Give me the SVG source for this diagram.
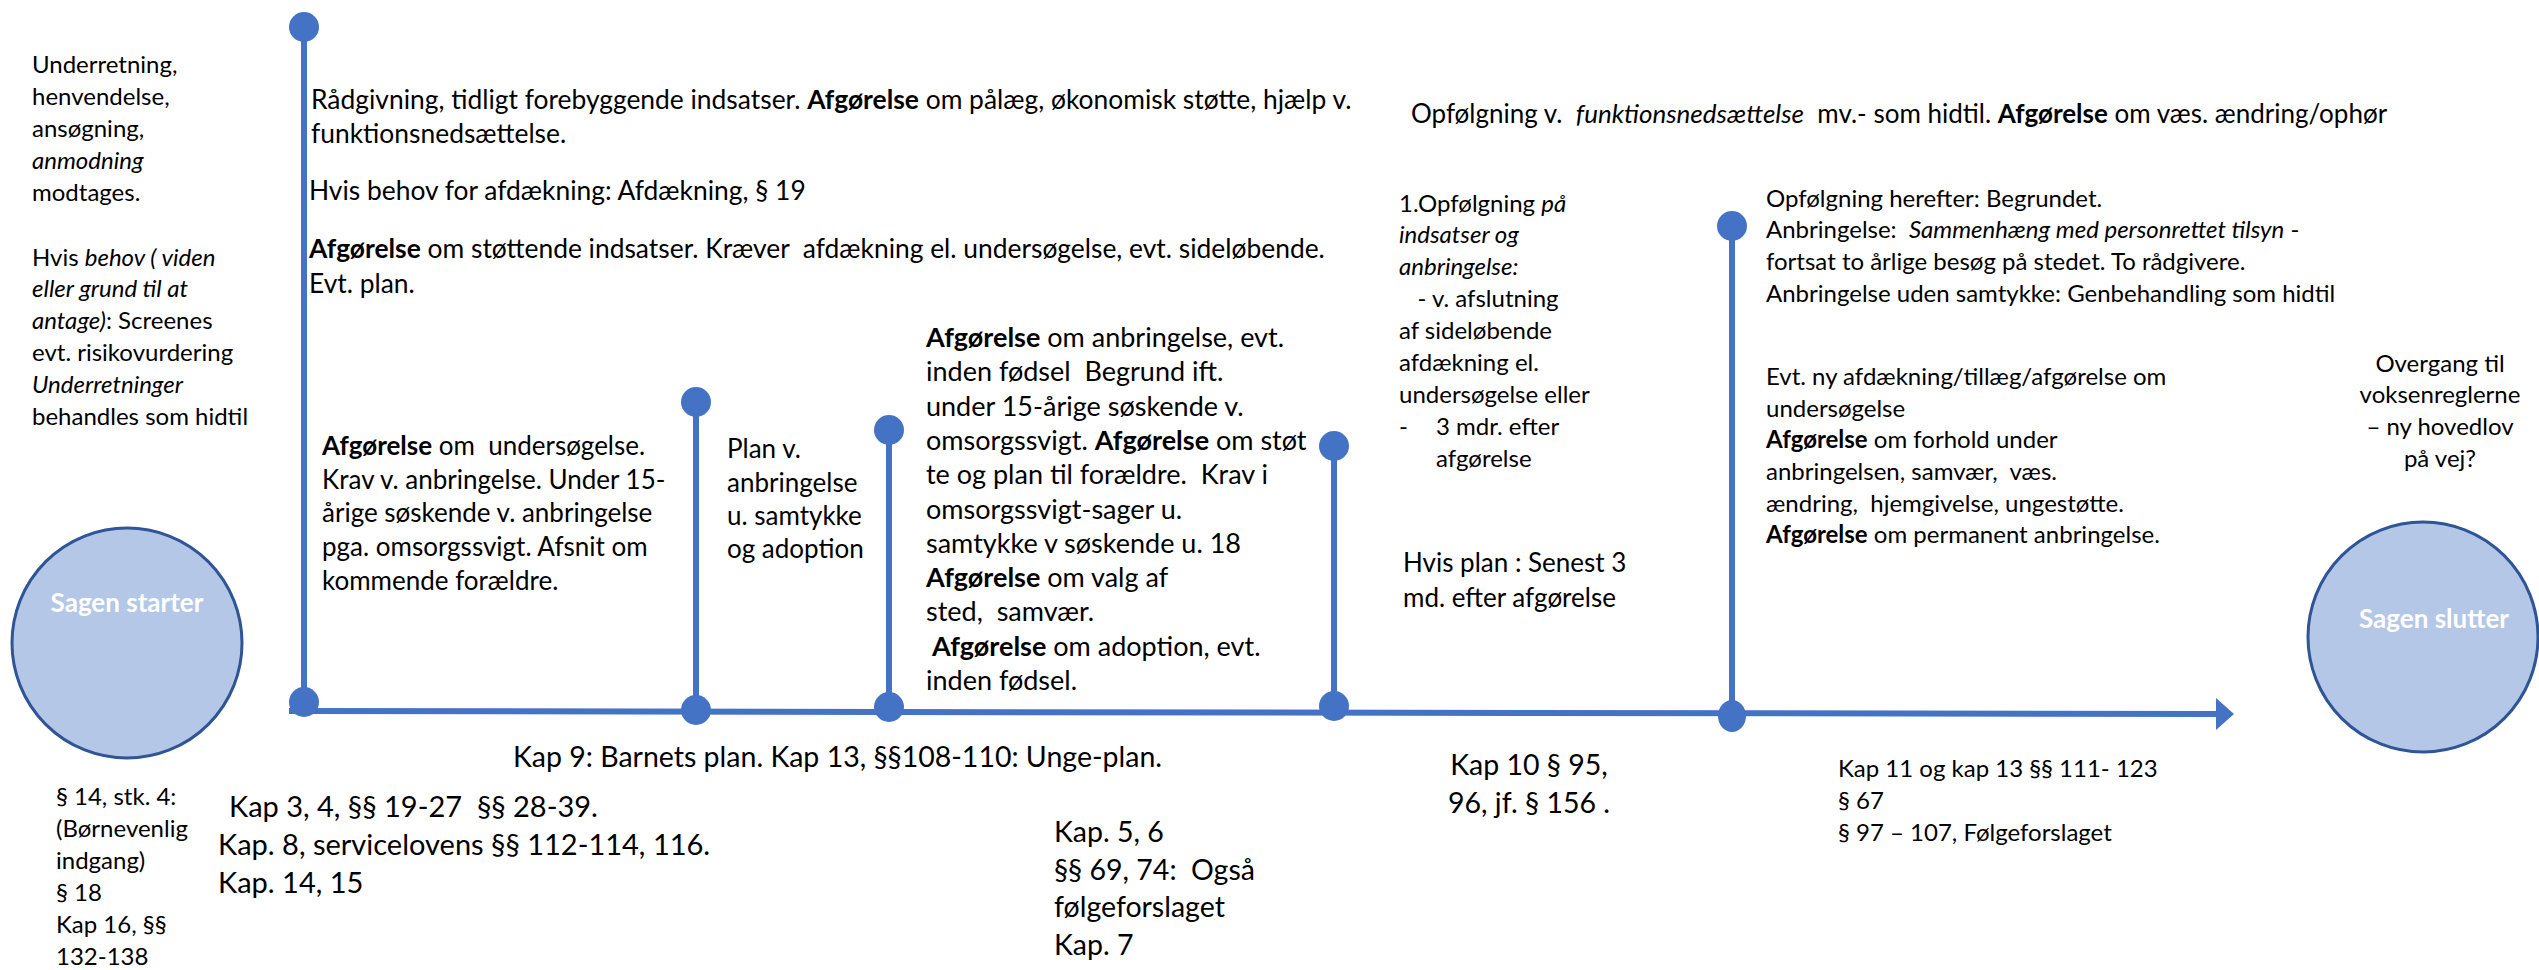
<svg xmlns="http://www.w3.org/2000/svg" width="2539" height="970" viewBox="0 0 2539 970">
<style>
text{font-family:Lato,"Open Sans","Liberation Sans",sans-serif;fill:#000;white-space:pre}
.s24{font-size:24px}.s26{font-size:26px}.s27{font-size:27px}.s28{font-size:28.5px}.s29{font-size:29px}
.sB{font-size:26.4px}.sC{font-size:26px}
.b{font-weight:bold}.i{font-style:italic}
.mk{stroke:#4472C4;stroke-width:6;fill:none}
.dot{fill:#4472C4}
.circ{fill:#B4C7E7;stroke:#2F5597;stroke-width:3}
.ct{fill:#fff;font-weight:bold;font-size:26px}
.mid{text-anchor:middle}
</style>
<defs>
<marker id="ah" markerWidth="18" markerHeight="32" refX="0" refY="16" orient="auto" markerUnits="userSpaceOnUse">
<path d="M0,0 L18,16 L0,32 Z" fill="#4472C4"/>
</marker>
</defs>

<g id="connectors">
<line x1="289" y1="711" x2="2216" y2="714" stroke="#4472C4" stroke-width="6" marker-end="url(#ah)"/>
</g>

<g id="start">
<circle class="circ" cx="127" cy="643" r="115"/>
<text class="ct mid" x="127" y="612">Sagen starter</text>
</g>
<g id="end">
<circle class="circ" cx="2423" cy="637" r="115"/>
<text class="ct mid" x="2434" y="628">Sagen slutter</text>
</g>

<g id="marker1">
<line class="mk" x1="304" y1="27" x2="304" y2="702"/>
<circle class="dot" cx="304" cy="27" r="15"/>
<circle class="dot" cx="304" cy="702" r="15"/>
</g>
<g id="marker2">
<line class="mk" x1="696" y1="402" x2="696" y2="710"/>
<circle class="dot" cx="696" cy="402" r="15"/>
<circle class="dot" cx="696" cy="710" r="15"/>
</g>
<g id="marker3">
<line class="mk" x1="889" y1="430" x2="889" y2="707"/>
<circle class="dot" cx="889" cy="430" r="15"/>
<circle class="dot" cx="889" cy="707" r="15"/>
</g>
<g id="marker4">
<line class="mk" x1="1334" y1="446" x2="1334" y2="706"/>
<circle class="dot" cx="1334" cy="446" r="15"/>
<circle class="dot" cx="1334" cy="706" r="15"/>
</g>
<g id="marker5">
<line class="mk" x1="1732" y1="226" x2="1732" y2="716"/>
<circle class="dot" cx="1732" cy="226" r="15"/>
<ellipse class="dot" cx="1732" cy="716" rx="14" ry="16"/>
</g>

<g id="intake" class="s24">
<text x="32" y="73">Underretning,</text>
<text x="32" y="105">henvendelse,</text>
<text x="32" y="137">ansøgning,</text>
<text x="32" y="169" class="i">anmodning</text>
<text x="32" y="201">modtages.</text>
<text x="32" y="266">Hvis <tspan class="i">behov ( viden</tspan></text>
<text x="32" y="297" class="i">eller grund til at</text>
<text x="32" y="329"><tspan class="i">antage)</tspan>: Screenes</text>
<text x="32" y="361">evt. risikovurdering</text>
<text x="32" y="393" class="i">Underretninger</text>
<text x="32" y="425">behandles som hidtil</text>
</g>

<g id="early" class="sB">
<text x="311" y="109">Rådgivning, tidligt forebyggende indsatser. <tspan class="b">Afgørelse</tspan> om pålæg, økonomisk støtte, hjælp v.</text>
<text x="311" y="143">funktionsnedsættelse.</text>
<text x="309" y="200">Hvis behov for afdækning: Afdækning, § 19</text>
<text x="309" y="258"><tspan class="b">Afgørelse</tspan> om støttende indsatser. Kræver  afdækning el. undersøgelse, evt. sideløbende.</text>
<text x="309" y="293">Evt. plan.</text>
</g>

<g id="followup-top" class="sC">
<text x="1411" y="123">Opfølgning v.  <tspan class="i">funktionsnedsættelse</tspan>  mv.- som hidtil. <tspan class="b">Afgørelse</tspan> om væs. ændring/ophør</text>
</g>

<g id="investigation" class="s26">
<text x="322" y="455"><tspan class="b">Afgørelse</tspan> om  undersøgelse.</text>
<text x="322" y="489">Krav v. anbringelse. Under 15-</text>
<text x="322" y="522">årige søskende v. anbringelse</text>
<text x="322" y="556">pga. omsorgssvigt. Afsnit om</text>
<text x="322" y="590">kommende forældre.</text>
</g>

<g id="plan" class="s26">
<text x="727" y="458">Plan v.</text>
<text x="727" y="492">anbringelse</text>
<text x="727" y="525">u. samtykke</text>
<text x="727" y="558">og adoption</text>
</g>

<g id="placement" class="s27">
<text x="926" y="347"><tspan class="b">Afgørelse</tspan> om anbringelse, evt.</text>
<text x="926" y="381">inden fødsel  Begrund ift.</text>
<text x="926" y="416">under 15-årige søskende v.</text>
<text x="926" y="450">omsorgssvigt. <tspan class="b">Afgørelse</tspan> om støt</text>
<text x="926" y="484">te og plan til forældre.  Krav i</text>
<text x="926" y="519">omsorgssvigt-sager u.</text>
<text x="926" y="553">samtykke v søskende u. 18</text>
<text x="926" y="587"><tspan class="b">Afgørelse</tspan> om valg af</text>
<text x="926" y="621">sted,  samvær.</text>
<text x="932" y="656"><tspan class="b">Afgørelse</tspan> om adoption, evt.</text>
<text x="926" y="690">inden fødsel.</text>
</g>

<g id="first-followup" class="s24">
<text x="1399" y="212">1.Opfølgning <tspan class="i">på</tspan></text>
<text x="1399" y="243" class="i">indsatser og</text>
<text x="1399" y="275" class="i">anbringelse:</text>
<text x="1399" y="307">   - v. afslutning</text>
<text x="1399" y="339">af sideløbende</text>
<text x="1399" y="371">afdækning el.</text>
<text x="1399" y="403">undersøgelse eller</text>
<text x="1399" y="435">-</text>
<text x="1436" y="435">3 mdr. efter</text>
<text x="1436" y="467">afgørelse</text>
</g>

<g id="plan-deadline" class="s26">
<text x="1403" y="572">Hvis plan : Senest 3</text>
<text x="1403" y="607">md. efter afgørelse</text>
</g>

<g id="later-followup" class="s24">
<text x="1766" y="207">Opfølgning herefter: Begrundet.</text>
<text x="1766" y="238">Anbringelse:  <tspan class="i">Sammenhæng med personrettet tilsyn</tspan> -</text>
<text x="1766" y="270">fortsat to årlige besøg på stedet. To rådgivere.</text>
<text x="1766" y="302">Anbringelse uden samtykke: Genbehandling som hidtil</text>
<text x="1766" y="385">Evt. ny afdækning/tillæg/afgørelse om</text>
<text x="1766" y="417">undersøgelse</text>
<text x="1766" y="448"><tspan class="b">Afgørelse</tspan> om forhold under</text>
<text x="1766" y="480">anbringelsen, samvær,  væs.</text>
<text x="1766" y="512">ændring,  hjemgivelse, ungestøtte.</text>
<text x="1766" y="543"><tspan class="b">Afgørelse</tspan> om permanent anbringelse.</text>
</g>

<g id="transition" class="s24 mid">
<text x="2440" y="372">Overgang til</text>
<text x="2440" y="403">voksenreglerne</text>
<text x="2440" y="435">– ny hovedlov</text>
<text x="2440" y="467">på vej?</text>
</g>

<g id="refs-start" class="s24">
<text x="56" y="805">§ 14, stk. 4:</text>
<text x="56" y="837">(Børnevenlig</text>
<text x="56" y="869">indgang)</text>
<text x="56" y="901">§ 18</text>
<text x="56" y="933">Kap 16, §§</text>
<text x="56" y="965">132-138</text>
</g>

<g id="refs-plan" class="s28">
<text x="513" y="767">Kap 9: Barnets plan. Kap 13, §§108-110: Unge-plan.</text>
</g>

<g id="refs-early" class="s29">
<text x="229" y="817">Kap 3, 4, §§ 19-27  §§ 28-39.</text>
<text x="218" y="855">Kap. 8, servicelovens §§ 112-114, 116.</text>
<text x="218" y="893">Kap. 14, 15</text>
</g>

<g id="refs-placement" class="s28">
<text x="1054" y="842">Kap. 5, 6</text>
<text x="1054" y="880">§§ 69, 74:  Også</text>
<text x="1054" y="917">følgeforslaget</text>
<text x="1054" y="955">Kap. 7</text>
</g>

<g id="refs-followup" class="s28 mid">
<text x="1529" y="775">Kap 10 § 95,</text>
<text x="1529" y="813">96, jf. § 156 .</text>
</g>

<g id="refs-later" class="s24">
<text x="1838" y="777">Kap 11 og kap 13 §§ 111- 123</text>
<text x="1838" y="809">§ 67</text>
<text x="1838" y="841">§ 97 – 107, Følgeforslaget</text>
</g>
</svg>
